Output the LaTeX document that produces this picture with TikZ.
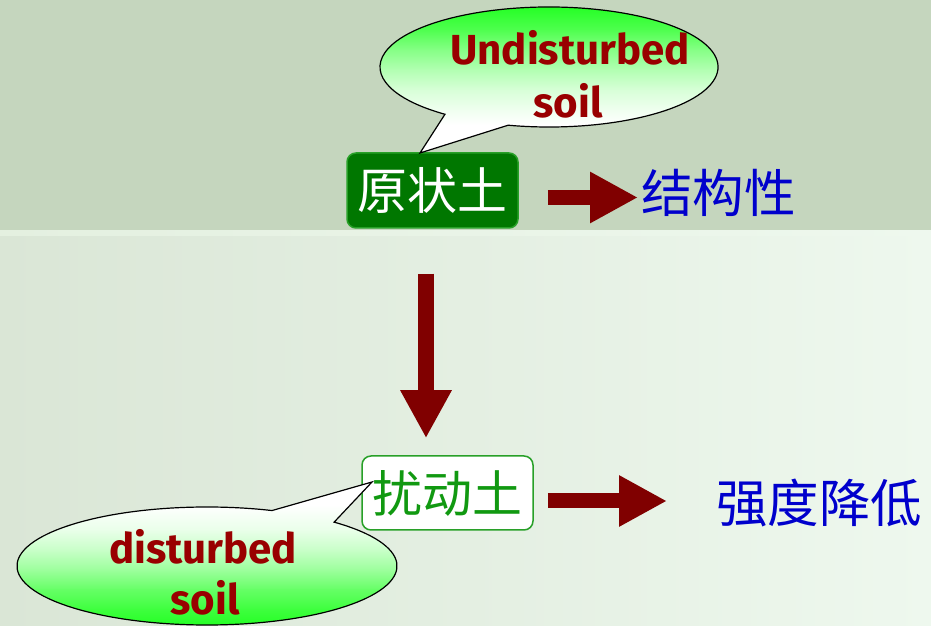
\documentclass[tikz,border=0pt]{standalone}
\usepackage{fontspec}
\newfontfamily\cjk{Noto Sans CJK SC}
\newfontfamily\enfont{Fira Sans}
\usetikzlibrary{arrows.meta,calc}
\definecolor{bandtop}{RGB}{197,214,190}
\definecolor{bgL}{RGB}{218,230,214}
\definecolor{bgR}{RGB}{238,248,238}
\definecolor{stripL}{RGB}{228,240,224}
\definecolor{bubgreen}{RGB}{34,255,34}
\colorlet{tA}{bubgreen!80!white}
\colorlet{tB}{bubgreen!55!white}
\colorlet{tC}{bubgreen!35!white}
\colorlet{tD}{bubgreen!18!white}
\colorlet{tE}{bubgreen!7!white}
\colorlet{bA}{bubgreen!88!white}
\colorlet{bB}{bubgreen!70!white}
\colorlet{bC}{bubgreen!45!white}
\colorlet{bD}{bubgreen!25!white}
\colorlet{bE}{bubgreen!10!white}
\definecolor{txtred}{RGB}{153,0,0}
\definecolor{arrred}{RGB}{128,0,0}
\definecolor{darkgreen}{RGB}{0,119,0}
\definecolor{boxedge}{RGB}{40,160,40}
\definecolor{lightgreentxt}{RGB}{17,153,17}
\definecolor{cnblue}{RGB}{0,0,204}
\tikzset{
  bubble/.style={draw=black, line width=1.2pt, line join=miter},
  entext/.style={font=\enfont\bfseries\fontsize{42}{42}\selectfont, text=txtred, inner sep=0pt, anchor=base},
  cntext/.style={font=\cjk\fontsize{50}{50}\selectfont, inner sep=0pt},
  cnlabel/.style={font=\cjk\fontsize{51.5}{51.5}\selectfont, inner sep=0pt, text=cnblue, anchor=west},
  soilbox/.style={rounded corners=9pt, line width=1.5pt, minimum width=171pt, inner sep=0pt},
  bigarrow/.style={draw=arrred, line width=15pt, line cap=butt, -{Triangle[length=48pt,width=48pt]}}
}
\begin{document}
\begin{tikzpicture}[x=1pt,y=1pt]
\useasboundingbox (0,0) rectangle (931,626);
% background
\shade[left color=bgL, right color=bgR] (0,0) rectangle (931,395);
\fill[bandtop] (0,395) rectangle (931,626);
\shade[left color=stripL, right color=bgR] (0,390) rectangle (931,395);

% boxes and texts
\node[soilbox, fill=darkgreen, draw=boxedge, minimum height=75pt, cntext, text=white] (yz) at (432.5,435.5) {原状土};
\node[soilbox, fill=white, draw=boxedge, minimum height=74pt, cntext, text=lightgreentxt] (rd) at (447.5,133) {扰动土};
\node[cnlabel] (jgx) at (641,433) {结构性};
\node[cnlabel] (qd) at (716,123) {强度降低};

% arrows
\draw[bigarrow, shorten <=29pt, shorten >=3pt] ([yshift=-7pt]yz.east) -- ([yshift=-7pt]yz.east -| jgx.west);
\draw[bigarrow, shorten <=14pt, shorten >=49pt] ([yshift=-8pt]rd.east) -- ([yshift=-8pt]rd.east -| qd.west);
\draw[bigarrow, line width=16pt, shorten <=45pt, shorten >=17pt] ([xshift=-6.5pt]yz.south) -- ([xshift=-6.5pt]yz.south |- rd.north);

% upper bubble
\coordinate (c1) at (549,559);
\coordinate (t1) at (420,473);
\def\topbubble{($(c1)+(232:169 and 60)$) -- (t1) -- ($(c1)+(256:169 and 60)$)
  arc[start angle=256, end angle=592, x radius=169, y radius=60] -- cycle}
\begin{scope}
  \clip \topbubble;
  \fill[white] (370,470) rectangle (730,501.5);
  \shade[top color=tE, bottom color=white] (370,501) rectangle (730,516.5);
  \shade[top color=tD, bottom color=tE] (370,516) rectangle (730,536.5);
  \shade[top color=tC, bottom color=tD] (370,536) rectangle (730,556.5);
  \shade[top color=tB, bottom color=tC] (370,556) rectangle (730,576.5);
  \shade[top color=tA, bottom color=tB] (370,576) rectangle (730,596.5);
  \shade[top color=bubgreen, bottom color=tA] (370,596) rectangle (730,621);
\end{scope}
\draw[bubble] \topbubble;
\node[entext] (u1) at (570,561) {Undisturbed};
\node[entext] (u2) at (568,508) {soil};

% lower bubble
\coordinate (c2) at (207,60);
\coordinate (t2) at (372,144);
\def\botbubble{($(c2)+(70:190 and 59)$) -- (t2) -- ($(c2)+(48:190 and 59)$)
  arc[start angle=48, end angle=-290, x radius=190, y radius=59] -- cycle}
\begin{scope}
  \clip \botbubble;
  \fill[white] (10,120.5) rectangle (410,150);
  \shade[top color=white, bottom color=bE] (10,95.5) rectangle (410,121);
  \shade[top color=bE, bottom color=bD] (10,75.5) rectangle (410,96);
  \shade[top color=bD, bottom color=bC] (10,55.5) rectangle (410,76);
  \shade[top color=bC, bottom color=bB] (10,35.5) rectangle (410,56);
  \shade[top color=bB, bottom color=bA] (10,15.5) rectangle (410,36);
  \shade[top color=bA, bottom color=bubgreen] (10,-2) rectangle (410,16);
\end{scope}
\draw[bubble] \botbubble;
\node[entext] (d1) at (203,62) {disturbed};
\node[entext] (d2) at (205,11) {soil};
\end{tikzpicture}
\end{document}
